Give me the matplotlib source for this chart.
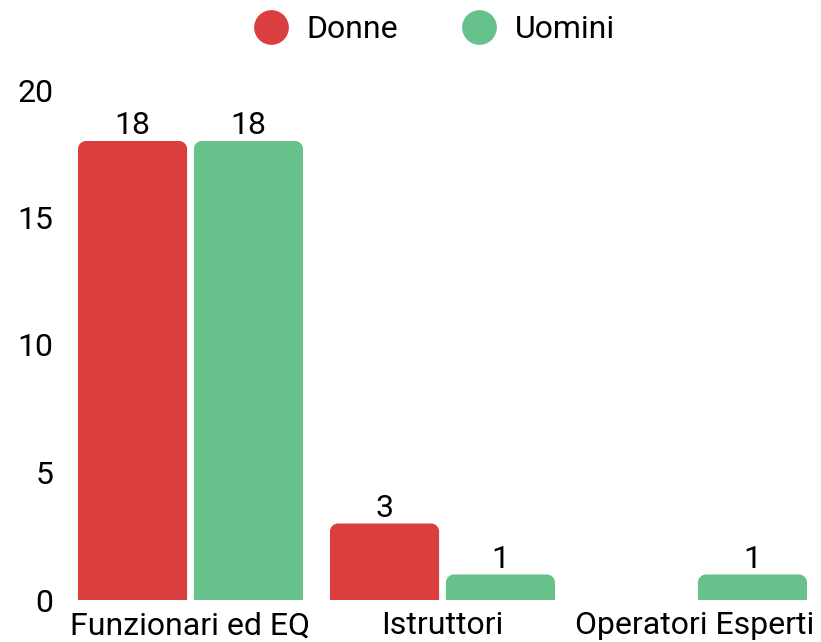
import matplotlib
matplotlib.use("Agg")
import matplotlib.pyplot as plt
import numpy as np
from matplotlib.path import Path
from matplotlib.patches import PathPatch
from matplotlib.lines import Line2D

categories = ["Funzionari ed EQ", "Istruttori", "Operatori Esperti"]
donne = [18, 3, 0]
uomini = [18, 1, 1]
series_names = ["Donne", "Uomini"]
yticks = [0, 5, 10, 15, 20]

RED = "#DA3E3E"
GREEN = "#66C18B"

plt.rcParams['font.family'] = ['Roboto', 'DejaVu Sans']
FS = 23

W, H = 821, 642
fig = plt.figure(figsize=(W / 100, H / 100), dpi=100)
ax = fig.add_axes([64.5 / W, 1 - 600 / H, 756 / W, 510 / H])
ax.set_xlim(-0.5, 2.5)
ax.set_ylim(0, 20)

x = np.arange(len(categories))
width = 0.433
off = 0.23

def rounded_top(x0, w, h, rx, ry):
    ry = min(ry, h)
    k = 0.5523
    verts = [
        (x0, 0), (x0, h - ry),
        (x0, h - ry * (1 - k)), (x0 + rx * (1 - k), h), (x0 + rx, h),
        (x0 + w - rx, h),
        (x0 + w - rx * (1 - k), h), (x0 + w, h - ry * (1 - k)), (x0 + w, h - ry),
        (x0 + w, 0), (x0, 0),
    ]
    codes = [Path.MOVETO, Path.LINETO,
             Path.CURVE4, Path.CURVE4, Path.CURVE4,
             Path.LINETO,
             Path.CURVE4, Path.CURVE4, Path.CURVE4,
             Path.LINETO, Path.CLOSEPOLY]
    return Path(verts, codes)

rpx = 8
rx = rpx / 252.0
ry = rpx / 25.5

for vals, sign, color in [(donne, -1, RED), (uomini, 1, GREEN)]:
    bars = ax.bar(x + sign * off, vals, width, color=color)
    for b, v in zip(bars, vals):
        b.set_visible(False)
        if v <= 0:
            continue
        p = rounded_top(b.get_x(), b.get_width(), b.get_height(), rx, ry)
        ax.add_patch(PathPatch(p, facecolor=color, edgecolor='none'))
        ax.annotate(str(v), (b.get_x() + b.get_width() / 2, v),
                    xytext=(0, 0.5), textcoords='offset points',
                    ha='center', va='bottom', fontsize=FS, color='black')

for s in ax.spines.values():
    s.set_visible(False)
ax.set_yticks(yticks)
ax.set_yticklabels([str(t) for t in yticks])
ax.set_xticks(x)
ax.set_xticklabels(categories)
ax.tick_params(axis='both', length=0, labelsize=FS, colors='black')
ax.tick_params(axis='y', pad=8)
ax.tick_params(axis='x', pad=8)

handles = [Line2D([], [], linestyle='none', marker='o', markersize=25,
                  markerfacecolor=c, markeredgecolor='none') for c in (RED, GREEN)]
fig.legend(handles, series_names, loc='upper center', bbox_to_anchor=(0.529, 1.021),
           ncol=2, frameon=False, fontsize=FS, handlelength=1.05,
           handletextpad=0.6, columnspacing=2.0)

fig.savefig("out.png", dpi=100)
